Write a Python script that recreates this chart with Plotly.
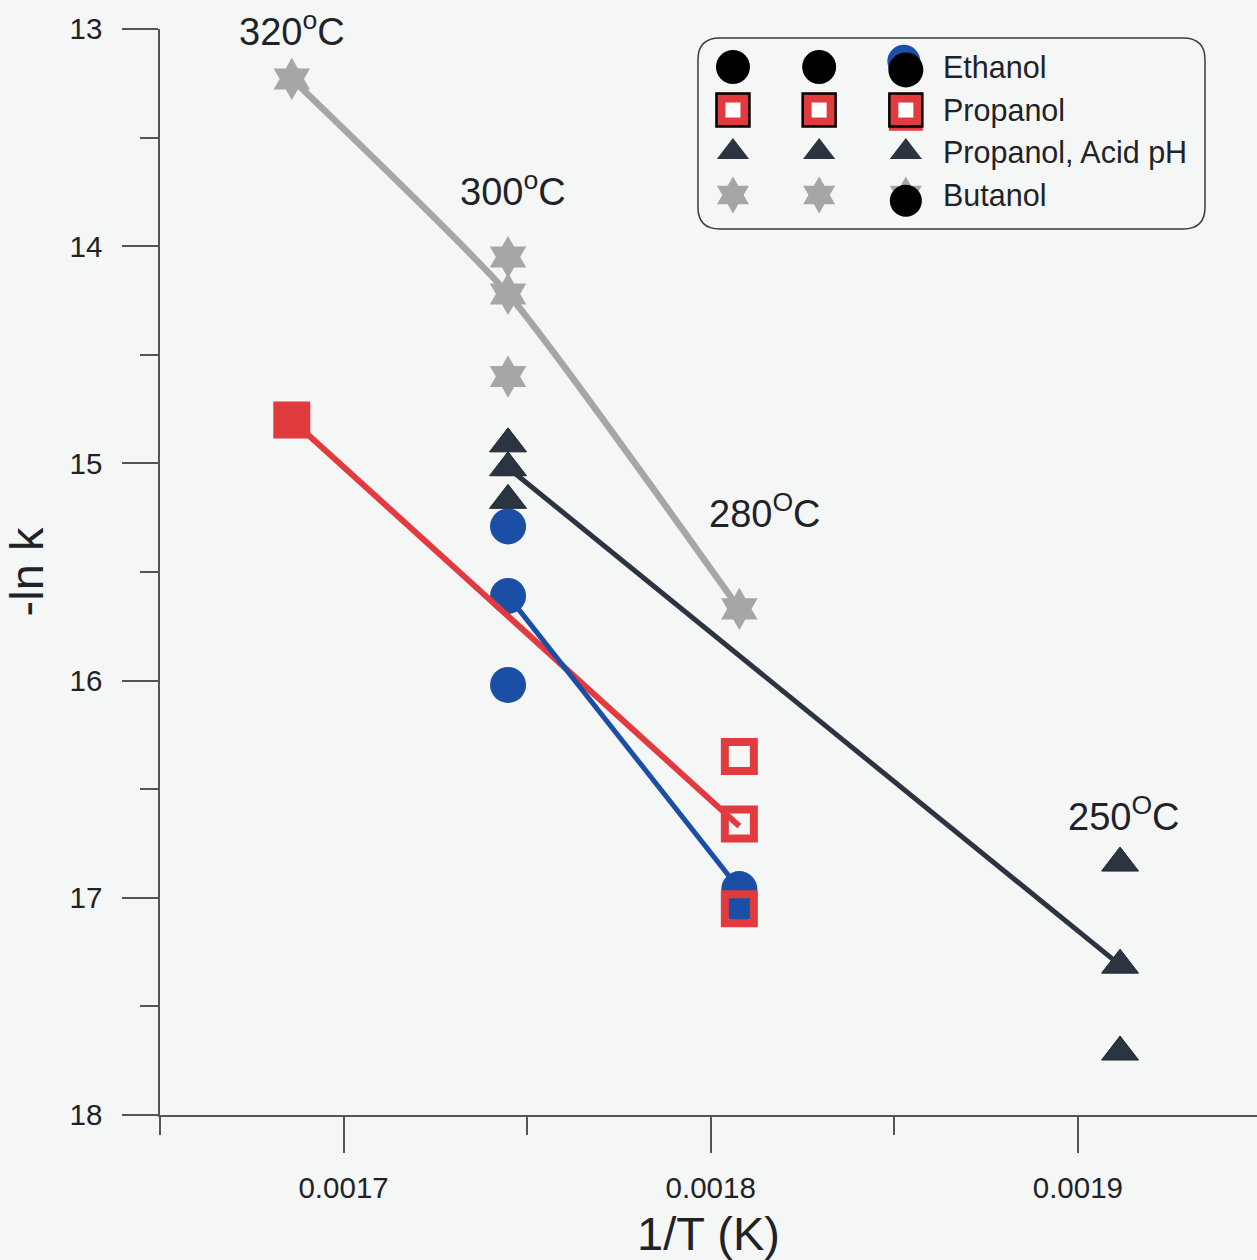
import plotly.graph_objects as go

# inverse temperatures (1/K) of the four runs
x_320 = 0.0016859
x_300 = 0.0017448
x_280 = 0.0018078
x_250 = 0.0019115

# -ln k measurements per alcohol
ethanol_x = [x_300, x_300, x_300, x_280, x_280]
ethanol_y = [15.29, 15.61, 16.02, 16.96, 17.03]
ethanol_fit_x = [x_300, x_280]
ethanol_fit_y = [15.61, 16.96]

propanol_x = [x_320, x_280, x_280, x_280]
propanol_y = [14.80, 16.35, 16.66, 17.05]
propanol_fit_x = [x_320, x_280]
propanol_fit_y = [14.80, 16.67]

acid_x = [x_300, x_300, x_300, x_250, x_250, x_250]
acid_y = [14.91, 15.02, 15.17, 16.84, 17.31, 17.71]
acid_fit_x = [x_300, x_250]
acid_fit_y = [15.02, 17.31]

butanol_x = [x_320, x_300, x_300, x_300, x_280]
butanol_y = [13.23, 14.05, 14.22, 14.60, 15.67]
butanol_fit_x = [x_320, x_300, x_280]
butanol_fit_y = [13.23, 14.22, 15.67]

temp_labels = ["320<sup>o</sup>C", "300<sup>o</sup>C", "280<sup>O</sup>C", "250<sup>O</sup>C"]
temp_label_x = [x_320, 0.0017462, 0.0018149, 0.0019127]
temp_label_y = [13.0, 13.737, 15.219, 16.614]

legend_names = ["Ethanol", "Propanol", "Propanol, Acid pH", "Butanol"]

BG = "#f5f7f7"
BLUE = "#1b4fa6"
RED = "#e23b3f"
DARK = "#2b3541"
GREY = "#a6a6a6"
FONT = "Liberation Sans, Arial, sans-serif"
TXT = "#1f2328"

fig = go.Figure()

# ethanol points
fig.add_trace(go.Scatter(x=ethanol_x, y=ethanol_y, mode="markers",
                         marker=dict(symbol="circle", size=36, color=BLUE, line=dict(width=0))))
# propanol fit line
fig.add_trace(go.Scatter(x=propanol_fit_x, y=propanol_fit_y, mode="lines",
                         line=dict(color=RED, width=6)))
# ethanol fit line
fig.add_trace(go.Scatter(x=ethanol_fit_x, y=ethanol_fit_y, mode="lines",
                         line=dict(color=BLUE, width=5)))
# acid pH points + fit
fig.add_trace(go.Scatter(x=acid_x, y=acid_y, mode="markers",
                         marker=dict(symbol="triangle-up", size=32, color=DARK,
                                     line=dict(width=1, color="#1c232c"))))
fig.add_trace(go.Scatter(x=acid_fit_x, y=acid_fit_y, mode="lines",
                         line=dict(color=DARK, width=5)))
# butanol points + fit
fig.add_trace(go.Scatter(x=butanol_x, y=butanol_y, mode="markers",
                         marker=dict(symbol="hexagram", size=32, color=GREY, line=dict(width=0))))
fig.add_trace(go.Scatter(x=butanol_fit_x, y=butanol_fit_y, mode="lines",
                         line=dict(color=GREY, width=6.5, shape="spline", smoothing=0.5)))
# propanol points
fig.add_trace(go.Scatter(x=propanol_x, y=propanol_y, mode="markers",
                         marker=dict(symbol=["square", "square-open", "square-open", "square-open"],
                                     size=29, color=RED, line=dict(width=8, color=RED))))

# temperature labels
for txt, tx, ty in zip(temp_labels, temp_label_x, temp_label_y):
    fig.add_annotation(x=tx, y=ty, xref="x", yref="y", text=txt, showarrow=False,
                       font=dict(family=FONT, size=38, color=TXT),
                       xanchor="center", yanchor="middle")

# legend frame (rounded rectangle in paper units)
box_x0, box_x1, box_y0, box_y1 = 0.4904, 0.9526, 0.8158, 0.9917
rx, ry = 0.020, 0.020
path = (f"M {box_x0+rx},{box_y1} L {box_x1-rx},{box_y1} Q {box_x1},{box_y1} {box_x1},{box_y1-ry} "
        f"L {box_x1},{box_y0+ry} Q {box_x1},{box_y0} {box_x1-rx},{box_y0} "
        f"L {box_x0+rx},{box_y0} Q {box_x0},{box_y0} {box_x0},{box_y0+ry} "
        f"L {box_x0},{box_y1-ry} Q {box_x0},{box_y1} {box_x0+rx},{box_y1} Z")
fig.add_shape(type="path", path=path, xref="paper", yref="paper",
              line=dict(color="#3a3a3a", width=1.5), fillcolor="rgba(0,0,0,0)", layer="above")

# legend symbols, drawn in their own small axis pair
cols = [0.069, 0.239, 0.41]
rows = [0.152, 0.377, 0.597, 0.822]
lx = dict(xaxis="x2", yaxis="y2", mode="markers", hoverinfo="skip")
# ethanol row
fig.add_trace(go.Scatter(x=[cols[2] - 0.004], y=[rows[0] - 0.03],
                         marker=dict(size=33, color=BLUE, opacity=1), **lx))
fig.add_trace(go.Scatter(x=cols, y=[rows[0]] * 2 + [rows[0] + 0.015],
                         marker=dict(size=[34, 34, 35], color="#000000", opacity=1,
                                     line=dict(width=0)), **lx))
# propanol row
fig.add_trace(go.Scatter(x=[cols[2]], y=[rows[1] + 0.02],
                         marker=dict(symbol="square", size=34, color=RED, opacity=1), **lx))
fig.add_trace(go.Scatter(x=cols, y=[rows[1]] * 3,
                         marker=dict(symbol="square", size=33, color=RED, opacity=1,
                                     line=dict(width=2.5, color="#000000")), **lx))
fig.add_trace(go.Scatter(x=cols, y=[rows[1]] * 3,
                         marker=dict(symbol="square", size=15, color="white", opacity=1), **lx))
# acid pH row
fig.add_trace(go.Scatter(x=cols, y=[rows[2]] * 3,
                         marker=dict(symbol="triangle-up", size=28, color=DARK, opacity=1), **lx))
# butanol row
fig.add_trace(go.Scatter(x=cols, y=[rows[3]] * 3,
                         marker=dict(symbol="hexagram", size=28, color=GREY, opacity=1), **lx))
fig.add_trace(go.Scatter(x=[cols[2]], y=[rows[3] + 0.03],
                         marker=dict(symbol="circle", size=32, color="#000000", opacity=1), **lx))

for name, ry_ in zip(legend_names, rows):
    fig.add_annotation(x=0.479, y=ry_, xref="x2", yref="y2", text=name, showarrow=False,
                       xanchor="left", yanchor="middle",
                       font=dict(family=FONT, size=30.5, color=TXT))

fig.update_layout(
    width=1257, height=1260,
    margin=dict(l=160, r=0, t=29, b=145),
    paper_bgcolor=BG, plot_bgcolor=BG,
    showlegend=False,
    font=dict(family=FONT, color=TXT),
    xaxis=dict(range=[0.00165, 0.0019488], showgrid=False, zeroline=False,
               showline=True, linecolor="#555", linewidth=1.5,
               tickmode="array", tickvals=[0.0017, 0.0018, 0.0019],
               ticktext=["0.0017", "0.0018", "0.0019"],
               ticks="outside", ticklen=36, tickwidth=1.5, tickcolor="#555",
               ticklabelstandoff=10,
               minor=dict(tickvals=[0.00165, 0.00175, 0.00185], ticks="outside",
                          ticklen=18, tickwidth=1.5, tickcolor="#555"),
               tickfont=dict(size=29.5, color=TXT),
               title=dict(text="1/T (K)", font=dict(size=47, color=TXT), standoff=14)),
    yaxis=dict(range=[18, 13], showgrid=False, zeroline=False,
               showline=True, linecolor="#555", linewidth=1.5,
               tickmode="array", tickvals=[13, 14, 15, 16, 17, 18],
               ticks="outside", ticklen=36, tickwidth=1.5, tickcolor="#555",
               ticklabelstandoff=14,
               minor=dict(tickvals=[13.5, 14.5, 15.5, 16.5, 17.5], ticks="outside",
                          ticklen=18, tickwidth=1.5, tickcolor="#555"),
               tickfont=dict(size=29.5, color=TXT),
               title=dict(text="-ln k", font=dict(size=47, color=TXT), standoff=24)),
    xaxis2=dict(domain=[box_x0, box_x1], range=[0, 1], visible=False, anchor="y2", fixedrange=True),
    yaxis2=dict(domain=[box_y0, box_y1], range=[1, 0], visible=False, anchor="x2", fixedrange=True),
)

fig.write_html("out.html")
